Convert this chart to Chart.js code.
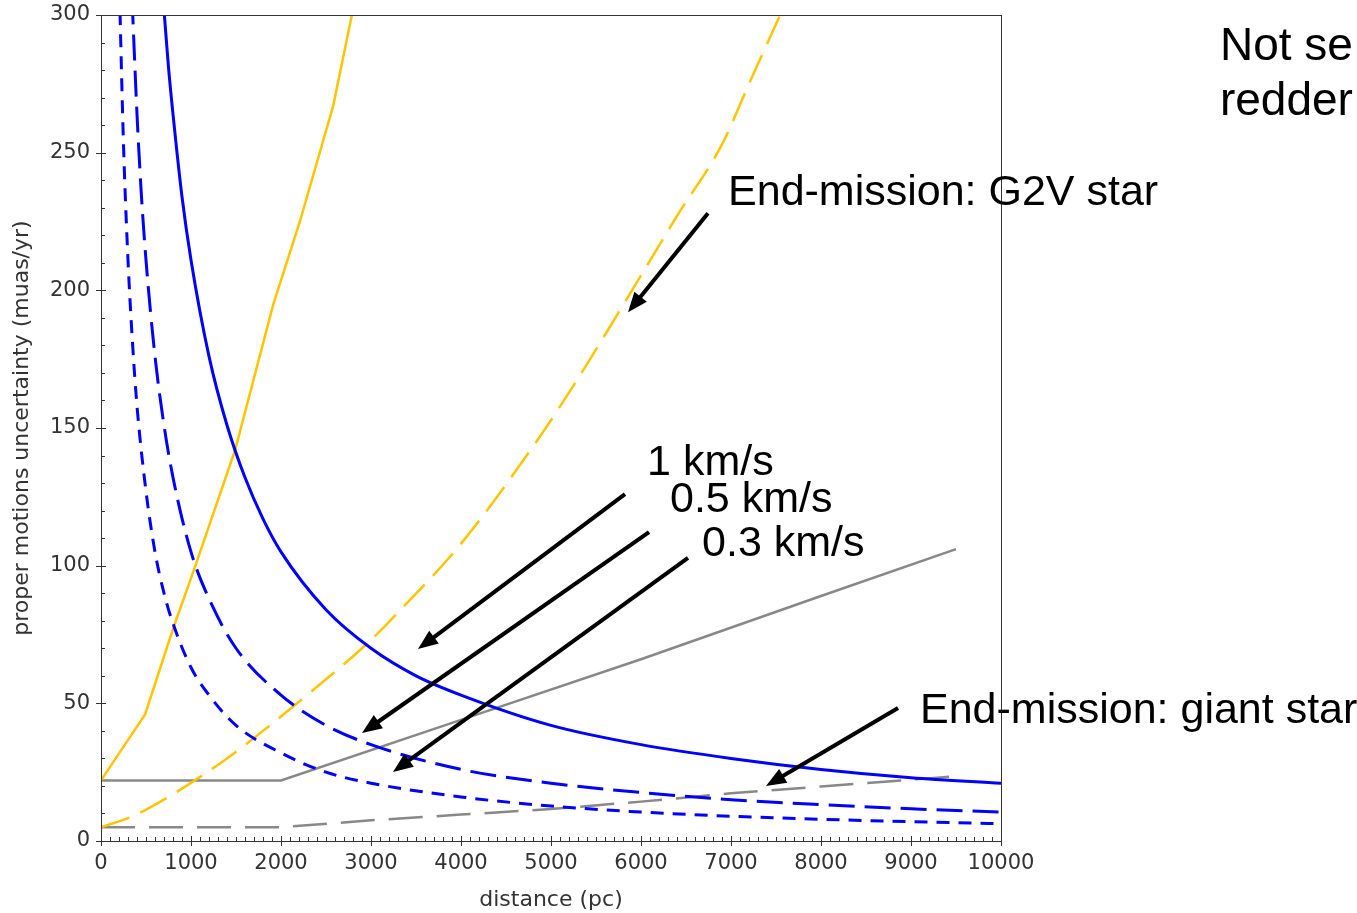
<!DOCTYPE html>
<html>
<head>
<meta charset="utf-8">
<script src="https://cdn.jsdelivr.net/npm/chart.js@4.4.1/dist/chart.umd.min.js"></script>
<style>
  html, body { margin: 0; padding: 0; background: #fff; }
</style>
</head>
<body>
<canvas id="chart" width="1357" height="913"></canvas>
<script>
// distances (pc) and proper motion uncertainty (muas/yr)
const dist1kms = [690, 750, 800, 900, 1000, 1200, 1400, 1600, 1800, 2000, 2500, 3000, 3500, 4000, 5000, 6000, 7000, 8000, 9000, 10000]
const pm1kms = [306, 281, 264, 234, 211, 176, 151, 132, 117, 105, 84, 70, 60, 53, 42, 35, 30, 26, 23, 21]

const dist05kms = [345, 400, 450, 500, 600, 700, 800, 1000, 1200, 1500, 2000, 2500, 3000, 4000, 5000, 6000, 7000, 8000, 9000, 10000]
const pm05kms = [306, 264, 234, 211, 176, 151, 132, 105, 88, 70, 53, 42, 35, 26, 21, 17.6, 15, 13.2, 11.7, 10.5]

const dist03kms = [205, 250, 300, 350, 400, 500, 600, 700, 800, 1000, 1200, 1500, 2000, 2500, 3000, 4000, 5000, 6000, 7000, 8000, 9000, 10000]
const pm03kms = [309, 253, 211, 181, 158, 127, 105, 90, 79, 63, 53, 42, 32, 25, 21, 16, 12.7, 10.5, 9, 7.9, 7, 6.3]

const distG2Vsolid = [0, 490, 800, 1060, 1490, 1915, 2210, 2580, 2800]
const pmG2Vsolid = [22, 46, 77, 101, 142, 195, 225, 267, 302]

const distG2V = [0, 350, 800, 1400, 1800, 2400, 3000, 3300, 4000, 4900, 5300, 5900, 6400, 6900, 7200, 7560]
const pmG2V = [5, 9, 17, 30, 40, 56, 73, 83, 108, 148, 168, 200, 227, 253, 275, 301]

const distGiantSolid = [0, 2000, 4000, 6000, 8000, 9500]
const pmGiantSolid = [22, 22, 44, 66, 89, 106]

const distGiant = [0, 2000, 3000, 4000, 5000, 6000, 7000, 8000, 9500]
const pmGiant = [5, 5, 7.5, 9.6, 11.6, 14.3, 17.3, 19.8, 23.5]

// annotation arrows (data coords: tail -> tip) and texts
const arrows = [
  { from: [6744, 228], to: [5856, 192] },
  { from: [5822, 126], to: [3522, 69.7] },
  { from: [6089, 112.2], to: [2900, 39.2] },
  { from: [6522, 102.8], to: [3244, 25.1] },
  { from: [8856, 48.3], to: [7389, 20] }
]
const notes = [
  { text: 'End-mission: G2V star', at: [6967, 231], size: 43 },
  { text: '1 km/s', at: [6067, 132.9], size: 43 },
  { text: '0.5 km/s', at: [6322, 119.5], size: 43 },
  { text: '0.3 km/s', at: [6678, 103.5], size: 43 },
  { text: 'End-mission: giant star', at: [9100, 42.9], size: 43 },
  { text: 'Not se', at: [12433, 283.7], size: 46 },
  { text: 'redder', at: [12433, 263.7], size: 46 }
]

const pts = (xs, ys) => xs.map((x, i) => ({ x, y: ys[i] }))

const BLUE = '#0000ff'
const GOLD = '#ffc400'
const GREY = '#888888'

const frame = {
  id: 'frame',
  afterDatasetsDraw (chart) {
    const { ctx, chartArea: a, scales: { x, y } } = chart
    ctx.save()
    ctx.strokeStyle = '#333'
    ctx.lineWidth = 1
    ctx.strokeRect(Math.round(a.left) + 0.5, Math.round(a.top) + 0.5, Math.round(a.right - a.left), Math.round(a.bottom - a.top))
    ctx.beginPath()
    for (let v = 0; v <= 10000; v += 100) {
      const px = Math.round(x.getPixelForValue(v)) + 0.5
      const major = v % 1000 === 0
      ctx.moveTo(px, a.bottom + (major ? 5 : 0))
      ctx.lineTo(px, a.bottom - (major ? 5 : 4))
    }
    for (let v = 0; v <= 300; v += 10) {
      const py = Math.round(y.getPixelForValue(v)) + 0.5
      const major = v % 50 === 0
      ctx.moveTo(a.left - (major ? 5 : 0), py)
      ctx.lineTo(a.left + (major ? 5 : 4), py)
    }
    ctx.stroke()
    ctx.restore()
  },
  afterDraw (chart) {
    const { ctx, scales: { x, y } } = chart
    ctx.save()
    ctx.strokeStyle = '#000'
    ctx.fillStyle = '#000'
    ctx.lineWidth = 4
    arrows.forEach(ar => {
      const x0 = x.getPixelForValue(ar.from[0])
      const y0 = y.getPixelForValue(ar.from[1])
      const x1 = x.getPixelForValue(ar.to[0])
      const y1 = y.getPixelForValue(ar.to[1])
      const ang = Math.atan2(y1 - y0, x1 - x0)
      const head = 20
      const bx = x1 - head * Math.cos(ang)
      const by = y1 - head * Math.sin(ang)
      ctx.beginPath()
      ctx.moveTo(x0, y0)
      ctx.lineTo(bx + 2 * Math.cos(ang), by + 2 * Math.sin(ang))
      ctx.stroke()
      ctx.beginPath()
      ctx.moveTo(x1, y1)
      ctx.lineTo(bx + 8 * Math.sin(ang), by - 8 * Math.cos(ang))
      ctx.lineTo(bx - 8 * Math.sin(ang), by + 8 * Math.cos(ang))
      ctx.closePath()
      ctx.fill()
    })
    ctx.textAlign = 'left'
    ctx.textBaseline = 'alphabetic'
    notes.forEach(n => {
      ctx.font = n.size + 'px "Liberation Sans", Arial, sans-serif'
      ctx.fillText(n.text, x.getPixelForValue(n.at[0]), y.getPixelForValue(n.at[1]))
    })
    ctx.restore()
  }
}

const ctx = document.getElementById('chart')
new Chart(ctx, {
  type: 'line',
  data: {
    datasets: [
      { label: '1 km/s', data: pts(dist1kms, pm1kms), borderColor: BLUE, borderWidth: 3, cubicInterpolationMode: 'monotone' },
      { label: '0.5 km/s', data: pts(dist05kms, pm05kms), borderColor: BLUE, borderWidth: 3, borderDash: [26, 10], cubicInterpolationMode: 'monotone' },
      { label: '0.3 km/s', data: pts(dist03kms, pm03kms), borderColor: BLUE, borderWidth: 3, borderDash: [13, 9], cubicInterpolationMode: 'monotone' },
      { label: 'G2V (solid)', data: pts(distG2Vsolid, pmG2Vsolid), borderColor: GOLD, borderWidth: 2.5 },
      { label: 'End-mission: G2V star', data: pts(distG2V, pmG2V), borderColor: GOLD, borderWidth: 2.5, borderDash: [30, 12], cubicInterpolationMode: 'monotone' },
      { label: 'giant (solid)', data: pts(distGiantSolid, pmGiantSolid), borderColor: GREY, borderWidth: 2.5 },
      { label: 'End-mission: giant star', data: pts(distGiant, pmGiant), borderColor: GREY, borderWidth: 2.5, borderDash: [34, 14] }
    ]
  },
  options: {
    responsive: false,
    animation: false,
    events: [],
    elements: { point: { radius: 0 }, line: { tension: 0, fill: false } },
    layout: { padding: { left: 9, top: 15, right: 356, bottom: 0 } },
    plugins: { legend: { display: false }, tooltip: { enabled: false } },
    scales: {
      x: {
        type: 'linear',
        min: 0,
        max: 10000,
        grid: { display: false, drawTicks: false },
        border: { display: false },
        ticks: { stepSize: 1000, padding: 10, color: '#333', font: { family: '"DejaVu Sans"', size: 21 }, maxRotation: 0, callback: (v) => String(v) },
        title: { display: true, text: 'distance (pc)', color: '#333', font: { family: '"DejaVu Sans"', size: 22 }, padding: 0 },
        afterFit: (scale) => { scale.height = 72 }
      },
      y: {
        type: 'linear',
        min: 0,
        max: 300,
        grid: { display: false, drawTicks: false },
        border: { display: false },
        ticks: { stepSize: 50, padding: 11, color: '#333', font: { family: '"DejaVu Sans"', size: 21 }, callback: (v) => String(v) },
        title: { display: true, text: 'proper motions uncertainty (muas/yr)', color: '#333', font: { family: '"DejaVu Sans"', size: 22 }, padding: 0 },
        afterFit: (scale) => { scale.width = 92; scale.paddingTop = 0; scale.paddingBottom = 0 }
      }
    }
  },
  plugins: [frame]
})
</script>
</body>
</html>
